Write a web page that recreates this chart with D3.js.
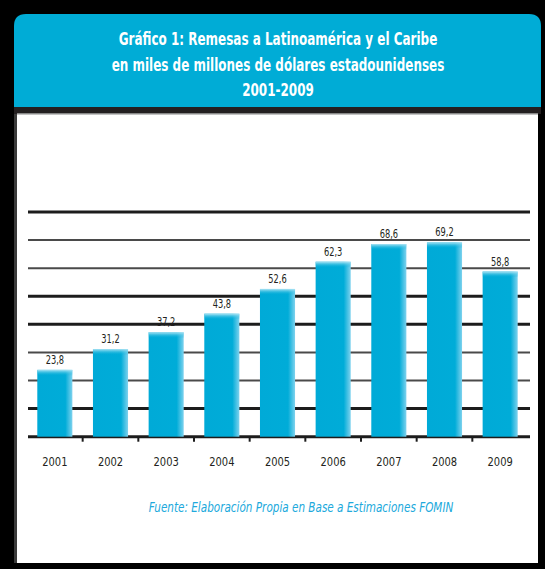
<!DOCTYPE html>
<html><head><meta charset="utf-8">
<script src="https://cdn.jsdelivr.net/npm/d3@7/dist/d3.min.js"></script>
<style>html,body{margin:0;padding:0;background:#000;}svg{display:block;}</style>
</head><body>
<svg id="c" width="545" height="569"></svg>
<script>
const years = ["2001","2002","2003","2004","2005","2006","2007","2008","2009"];
const values = [23.8, 31.2, 37.2, 43.8, 52.6, 62.3, 68.6, 69.2, 58.8];
const valueLabels = ["23,8","31,2","37,2","43,8","52,6","62,3","68,6","69,2","58,8"];
const gridTicks = [0,10,20,30,40,50,60,70,80];
const titleLines = ["Gráfico 1: Remesas a Latinoamérica y el Caribe","en miles de millones de dólares estadounidenses","2001-2009"];
const sourceText = "Fuente: Elaboración Propia en Base a Estimaciones FOMIN";

const svg = d3.select("#c");
const COND = "'DejaVu Sans Condensed','Liberation Sans Narrow',sans-serif";
const defs = svg.append("defs");
const gH = defs.append("linearGradient").attr("id","gh").attr("x1","0").attr("x2","1").attr("y1","0").attr("y2","0");
gH.append("stop").attr("offset","0").attr("stop-color","#00aad7");
gH.append("stop").attr("offset","0.8").attr("stop-color","#00acd8");
gH.append("stop").attr("offset","1").attr("stop-color","#7fd2ee");
const gV = defs.append("linearGradient").attr("id","gv").attr("x1","0").attr("x2","0").attr("y1","0").attr("y2","1");
gV.append("stop").attr("offset","0").attr("stop-color","#b0e5f5");
gV.append("stop").attr("offset","1").attr("stop-color","#00acd8").attr("stop-opacity","0");

// panel
svg.append("rect").attr("x",0).attr("y",0).attr("width",545).attr("height",569).attr("fill","#000");
const r = 12, x0 = 14, x1 = 541, y0 = 14, y1 = 108;
svg.append("path").attr("d",`M${x0},${y1}V${y0+r}Q${x0},${y0} ${x0+r},${y0}H${x1-r}Q${x1},${y0} ${x1},${y0+r}V${y1}Z`).attr("fill","#00acd6");
svg.append("rect").attr("x",14).attr("y",107).attr("width",527).attr("height",7).attr("fill","#231f20");
svg.append("rect").attr("x",14).attr("y",114).attr("width",3).attr("height",449).attr("fill","#3a3a3a");
svg.append("rect").attr("x",17).attr("y",114).attr("width",521).attr("height",449).attr("fill","#fff");
svg.append("rect").attr("x",17).attr("y",113).attr("width",521).attr("height",1.5).attr("fill","#888");

// helper: horizontally condensed text
function ctext(g, data, xf, yf, sx, opts){
  return g.selectAll("text").data(data).join("text")
    .attr("transform",(d,i)=>`translate(${xf(d,i)},${yf(d,i)}) scale(${sx},1)`)
    .attr("text-anchor","middle").attr("font-family",COND)
    .call(s=>{ for (const k in opts) if (k!=="txt") s.attr(k,opts[k]); })
    .text((d,i)=>opts.txt?opts.txt(d,i):d);
}

// title
ctext(svg.append("g"), titleLines, ()=>278, (d,i)=>45+i*25.5, 0.74,
  {fill:"#fff","font-weight":"bold","font-size":18});

// scales
const x = d3.scaleBand().domain(years).range([27,528]).paddingInner(0).paddingOuter(0);
const y = d3.scaleLinear().domain([0,80]).range([436.7,212]);
const barW = x.bandwidth()*0.63;

// gridlines
const thick = new Set([0,10,40,50,80]);
svg.append("g").selectAll("line").data(gridTicks).join("line")
  .attr("x1",28).attr("x2",530).attr("y1",d=>y(d)).attr("y2",d=>y(d))
  .attr("stroke",d=>thick.has(d)?"#1c1c1c":"#4a4a4a")
  .attr("stroke-width",d=>thick.has(d)?3:2);

// ticks between bands
svg.append("g").selectAll("line").data(years.slice(1)).join("line")
  .attr("x1",d=>x(d)).attr("x2",d=>x(d)).attr("y1",y(0)).attr("y2",y(0)+5)
  .attr("stroke","#1c1c1c").attr("stroke-width",2);

// bars
const bars = svg.append("g").selectAll("g").data(years).join("g");
bars.append("rect")
  .attr("x",d=>x(d)+(x.bandwidth()-barW)/2).attr("width",barW)
  .attr("y",(d,i)=>y(values[i])).attr("height",(d,i)=>y(0)-y(values[i]))
  .attr("fill","url(#gh)");
bars.append("rect")
  .attr("x",d=>x(d)+(x.bandwidth()-barW)/2).attr("width",barW)
  .attr("y",(d,i)=>y(values[i])).attr("height",6)
  .attr("fill","url(#gv)");

// value labels
ctext(svg.append("g"), years, d=>x(d)+x.bandwidth()/2, (d,i)=>y(values[i])-6, 0.8,
  {fill:"#231f20","font-size":11.5, txt:(d,i)=>valueLabels[i]});

// year labels
ctext(svg.append("g"), years, d=>x(d)+x.bandwidth()/2, ()=>466, 0.85,
  {fill:"#231f20","font-size":13});

// source
ctext(svg.append("g"), [sourceText], ()=>301, ()=>512, 0.86,
  {fill:"#20a9dc","font-style":"italic","font-size":13.5});
</script>
</body></html>
